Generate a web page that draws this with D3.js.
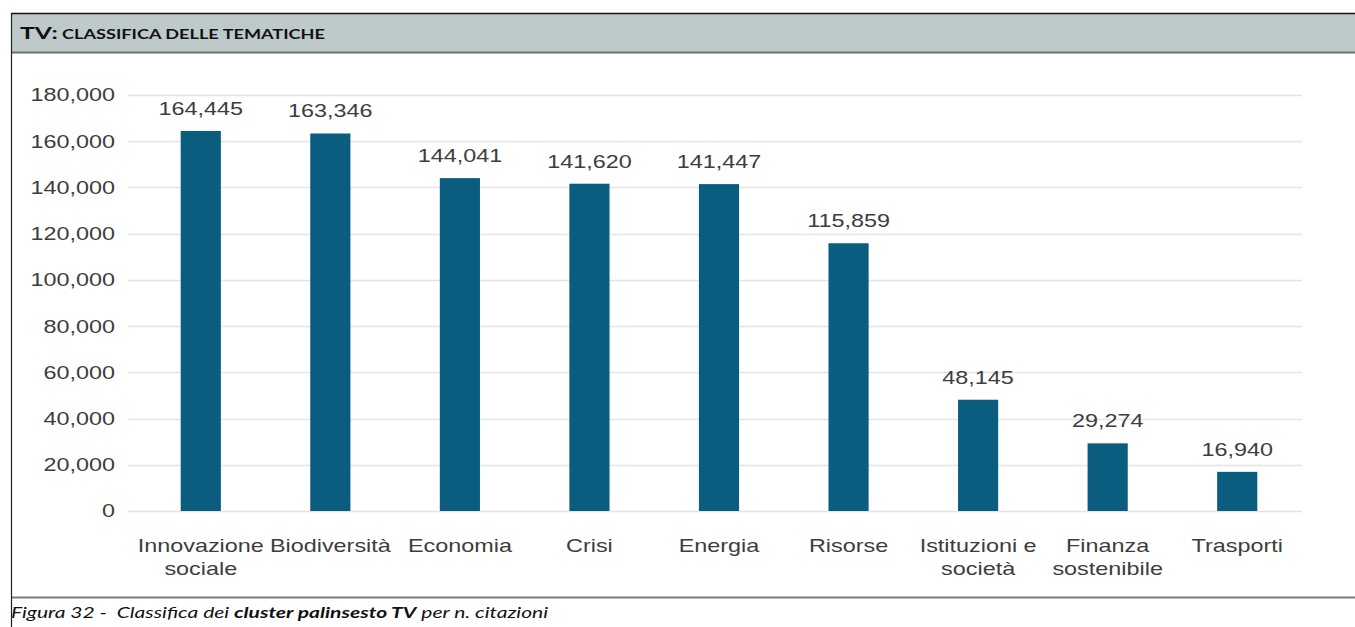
<!DOCTYPE html>
<html>
<head>
<meta charset="utf-8">
<script src="https://cdn.jsdelivr.net/npm/d3@7"></script>
<style>
  html, body { margin: 0; padding: 0; background: #ffffff; }
  svg { display: block; }
  text { white-space: pre; }
</style>
</head>
<body>
<svg id="chart" width="1355" height="627"></svg>
<script>
// ---- data ----
const categories = [
  "Innovazione\nsociale",
  "Biodiversità",
  "Economia",
  "Crisi",
  "Energia",
  "Risorse",
  "Istituzioni e\nsocietà",
  "Finanza\nsostenibile",
  "Trasporti"
];
const values = [164445, 163346, 144041, 141620, 141447, 115859, 48145, 29274, 16940];
const yTicks = [0, 20000, 40000, 60000, 80000, 100000, 120000, 140000, 160000, 180000];
const titleMain = "TV:";
const titleRest = " CLASSIFICA DELLE TEMATICHE";
const captionParts = [
  { t: "Figura 32 -  Classifica dei ", bold: false },
  { t: "cluster palinsesto TV", bold: true },
  { t: " per n. citazioni", bold: false }
];

// ---- layout ----
const W = 1355, H = 627;
const svg = d3.select("#chart");
const stretch = 1.3;
const textColor = "#3d3d3d";
const barColor = "#0b5d80";

// frame
svg.append("rect").attr("x", 11).attr("y", 13).attr("width", W - 11).attr("height", 39)
  .attr("fill", "#bec9ca");
svg.append("line").attr("x1", 11).attr("x2", W).attr("y1", 13.5).attr("y2", 13.5)
  .attr("stroke", "#111").attr("stroke-width", 1.5);
svg.append("line").attr("x1", 11).attr("x2", W).attr("y1", 52.5).attr("y2", 52.5)
  .attr("stroke", "#6b716d").attr("stroke-width", 2);
svg.append("line").attr("x1", 11).attr("x2", W).attr("y1", 597.5).attr("y2", 597.5)
  .attr("stroke", "#7a7a7a").attr("stroke-width", 2);
svg.append("line").attr("x1", 11.5).attr("x2", 11.5).attr("y1", 13).attr("y2", H)
  .attr("stroke", "#222").attr("stroke-width", 1.2);

// title
const title = svg.append("text").attr("x", 20).attr("y", 39)
  .attr("font-family", "Lato, 'Open Sans', sans-serif").attr("font-weight", "bold")
  .attr("fill", "#111")
  .attr("textLength", 305).attr("lengthAdjust", "spacingAndGlyphs");
title.append("tspan").attr("font-size", 17).text(titleMain);
title.append("tspan").attr("font-size", 12.5).text(titleRest);

// caption
const cap = svg.append("text").attr("x", 11).attr("y", 618)
  .attr("font-family", "Lato, 'Open Sans', sans-serif").attr("font-style", "italic")
  .attr("font-size", 15.5).attr("fill", "#111")
  .attr("textLength", 537).attr("lengthAdjust", "spacingAndGlyphs");
captionParts.forEach(p => {
  cap.append("tspan").attr("font-weight", p.bold ? "bold" : "normal").text(p.t);
});

// scales
const y = d3.scaleLinear().domain([0, 180000]).range([511, 95]);
const x = d3.scaleBand().domain(categories).range([136, 1302])
  .paddingInner(0.69).paddingOuter(0.345);
const fmt = d3.format(",");

// gridlines
svg.append("g").selectAll("line").data(yTicks).join("line")
  .attr("x1", 128).attr("x2", 1302)
  .attr("y1", d => Math.round(y(d)) + 0.5).attr("y2", d => Math.round(y(d)) + 0.5)
  .attr("stroke", "#e4e4e4").attr("stroke-width", 1.5);

// y tick labels
svg.append("g").selectAll("text").data(yTicks).join("text")
  .attr("transform", d => `translate(115,${y(d)}) scale(${stretch},1)`)
  .attr("dy", "0.36em")
  .attr("text-anchor", "end")
  .attr("font-family", "'Liberation Sans', Arial, sans-serif")
  .attr("font-size", 18).attr("fill", textColor)
  .text(d => fmt(d));

// bars
svg.append("g").selectAll("rect").data(values).join("rect")
  .attr("x", (d, i) => x(categories[i]))
  .attr("width", x.bandwidth())
  .attr("y", d => y(d))
  .attr("height", d => y(0) - y(d))
  .attr("fill", barColor);

// value labels
svg.append("g").selectAll("text").data(values).join("text")
  .attr("transform", (d, i) => `translate(${x(categories[i]) + x.bandwidth() / 2},${y(d) - 16}) scale(${stretch},1)`)
  .attr("text-anchor", "middle")
  .attr("font-family", "'Liberation Sans', Arial, sans-serif")
  .attr("font-size", 18).attr("fill", textColor)
  .text(d => fmt(d));

// category labels
const cat = svg.append("g").selectAll("g").data(categories).join("g")
  .attr("transform", d => `translate(${x(d) + x.bandwidth() / 2},0)`);
cat.each(function(d) {
  const lines = d.split("\n");
  d3.select(this).selectAll("text").data(lines).join("text")
    .attr("transform", (l, j) => `translate(0,${552 + j * 23}) scale(${stretch},1)`)
    .attr("text-anchor", "middle")
    .attr("font-family", "'Liberation Sans', Arial, sans-serif")
    .attr("font-size", 18).attr("fill", textColor)
    .text(l => l);
});
</script>
</body>
</html>
